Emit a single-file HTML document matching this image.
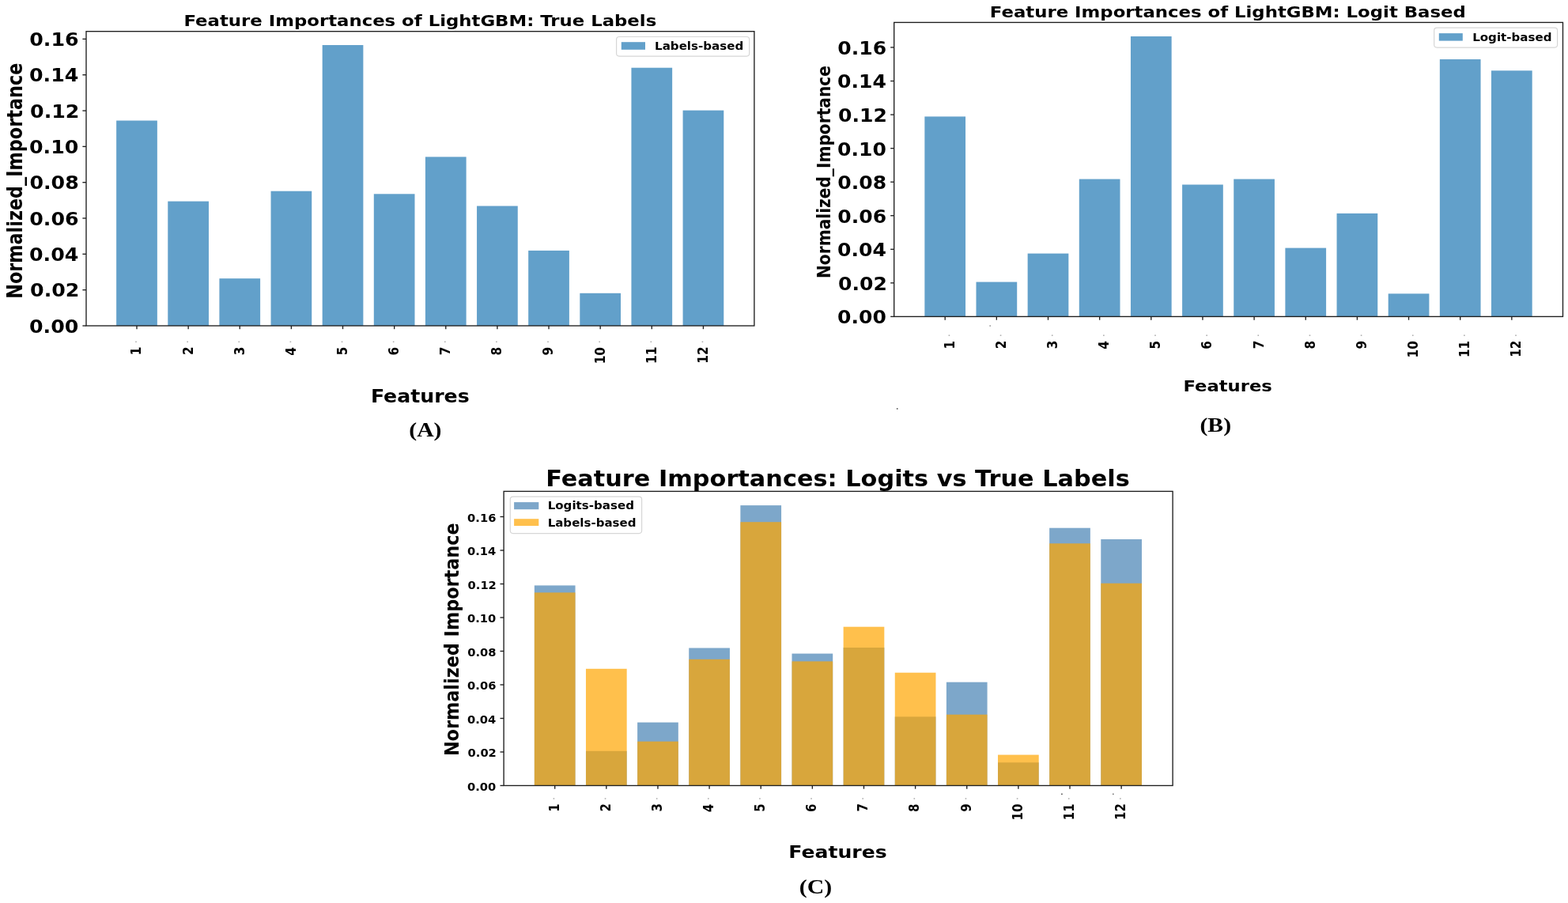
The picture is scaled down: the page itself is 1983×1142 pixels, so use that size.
<!DOCTYPE html>
<html><head><meta charset="utf-8"><title>Feature Importances</title>
<style>html,body{margin:0;padding:0;background:#fff;}svg{display:block;}</style></head>
<body><svg width="1983" height="1142" viewBox="0 0 1983 1142">
<rect width="1983" height="1142" fill="#fff"/>
<rect x="147.15" y="152.50" width="51.70" height="259.50" fill="#1f77b4" fill-opacity="0.7"/>
<rect x="212.28" y="254.60" width="51.70" height="157.40" fill="#1f77b4" fill-opacity="0.7"/>
<rect x="277.41" y="352.20" width="51.70" height="59.80" fill="#1f77b4" fill-opacity="0.7"/>
<rect x="342.54" y="241.70" width="51.70" height="170.30" fill="#1f77b4" fill-opacity="0.7"/>
<rect x="407.67" y="57.00" width="51.70" height="355.00" fill="#1f77b4" fill-opacity="0.7"/>
<rect x="472.80" y="245.30" width="51.70" height="166.70" fill="#1f77b4" fill-opacity="0.7"/>
<rect x="537.93" y="198.40" width="51.70" height="213.60" fill="#1f77b4" fill-opacity="0.7"/>
<rect x="603.06" y="260.50" width="51.70" height="151.50" fill="#1f77b4" fill-opacity="0.7"/>
<rect x="668.19" y="316.90" width="51.70" height="95.10" fill="#1f77b4" fill-opacity="0.7"/>
<rect x="733.32" y="370.80" width="51.70" height="41.20" fill="#1f77b4" fill-opacity="0.7"/>
<rect x="798.45" y="85.70" width="51.70" height="326.30" fill="#1f77b4" fill-opacity="0.7"/>
<rect x="863.58" y="139.60" width="51.70" height="272.40" fill="#1f77b4" fill-opacity="0.7"/>
<rect x="109.00" y="39.70" width="844.90" height="372.30" fill="none" stroke="#1e1e1e" stroke-width="1.35"/>
<line x1="104.40" y1="412.00" x2="109.00" y2="412.00" stroke="#1e1e1e" stroke-width="1.35"/>
<text font-family="DejaVu Sans" font-weight="bold" font-size="22.781" transform="translate(37.04 420.56) scale(1.1094 1)" fill="#000">0.00</text>
<line x1="104.40" y1="366.67" x2="109.00" y2="366.67" stroke="#1e1e1e" stroke-width="1.35"/>
<text font-family="DejaVu Sans" font-weight="bold" font-size="22.781" transform="translate(38.05 375.23) scale(1.1094 1)" fill="#000">0.02</text>
<line x1="104.40" y1="321.34" x2="109.00" y2="321.34" stroke="#1e1e1e" stroke-width="1.35"/>
<text font-family="DejaVu Sans" font-weight="bold" font-size="22.781" transform="translate(37.04 329.90) scale(1.1094 1)" fill="#000">0.04</text>
<line x1="104.40" y1="276.01" x2="109.00" y2="276.01" stroke="#1e1e1e" stroke-width="1.35"/>
<text font-family="DejaVu Sans" font-weight="bold" font-size="22.781" transform="translate(37.29 284.57) scale(1.1094 1)" fill="#000">0.06</text>
<line x1="104.40" y1="230.68" x2="109.00" y2="230.68" stroke="#1e1e1e" stroke-width="1.35"/>
<text font-family="DejaVu Sans" font-weight="bold" font-size="22.781" transform="translate(37.42 239.24) scale(1.1094 1)" fill="#000">0.08</text>
<line x1="104.40" y1="185.35" x2="109.00" y2="185.35" stroke="#1e1e1e" stroke-width="1.35"/>
<text font-family="DejaVu Sans" font-weight="bold" font-size="22.781" transform="translate(37.04 193.91) scale(1.1094 1)" fill="#000">0.10</text>
<line x1="104.40" y1="140.02" x2="109.00" y2="140.02" stroke="#1e1e1e" stroke-width="1.35"/>
<text font-family="DejaVu Sans" font-weight="bold" font-size="22.781" transform="translate(38.05 148.58) scale(1.1094 1)" fill="#000">0.12</text>
<line x1="104.40" y1="94.69" x2="109.00" y2="94.69" stroke="#1e1e1e" stroke-width="1.35"/>
<text font-family="DejaVu Sans" font-weight="bold" font-size="22.781" transform="translate(37.04 103.25) scale(1.1094 1)" fill="#000">0.14</text>
<line x1="104.40" y1="49.36" x2="109.00" y2="49.36" stroke="#1e1e1e" stroke-width="1.35"/>
<text font-family="DejaVu Sans" font-weight="bold" font-size="22.781" transform="translate(37.29 57.92) scale(1.1094 1)" fill="#000">0.16</text>
<line x1="173.00" y1="412.00" x2="173.00" y2="416.20" stroke="#1e1e1e" stroke-width="1.35"/>
<text font-family="DejaVu Sans" font-weight="bold" font-size="17.616" text-anchor="end" transform="translate(178.43 438.61) rotate(-90) scale(0.8723 1)">1</text>
<rect x="171.20" y="431.50" width="1.6" height="1.6" fill="#b0b0b0"/>
<line x1="238.13" y1="412.00" x2="238.13" y2="416.20" stroke="#1e1e1e" stroke-width="1.35"/>
<text font-family="DejaVu Sans" font-weight="bold" font-size="17.616" text-anchor="end" transform="translate(243.65 438.38) rotate(-90) scale(0.8723 1)">2</text>
<rect x="236.33" y="431.50" width="1.6" height="1.6" fill="#b0b0b0"/>
<line x1="303.26" y1="412.00" x2="303.26" y2="416.20" stroke="#1e1e1e" stroke-width="1.35"/>
<text font-family="DejaVu Sans" font-weight="bold" font-size="17.616" text-anchor="end" transform="translate(308.65 438.46) rotate(-90) scale(0.8723 1)">3</text>
<rect x="301.46" y="431.50" width="1.6" height="1.6" fill="#b0b0b0"/>
<line x1="368.39" y1="412.00" x2="368.39" y2="416.20" stroke="#1e1e1e" stroke-width="1.35"/>
<text font-family="DejaVu Sans" font-weight="bold" font-size="17.616" text-anchor="end" transform="translate(373.82 439.00) rotate(-90) scale(0.8723 1)">4</text>
<rect x="366.59" y="431.50" width="1.6" height="1.6" fill="#b0b0b0"/>
<line x1="433.52" y1="412.00" x2="433.52" y2="416.20" stroke="#1e1e1e" stroke-width="1.35"/>
<text font-family="DejaVu Sans" font-weight="bold" font-size="17.616" text-anchor="end" transform="translate(438.82 438.61) rotate(-90) scale(0.8723 1)">5</text>
<rect x="431.72" y="431.50" width="1.6" height="1.6" fill="#b0b0b0"/>
<line x1="498.65" y1="412.00" x2="498.65" y2="416.20" stroke="#1e1e1e" stroke-width="1.35"/>
<text font-family="DejaVu Sans" font-weight="bold" font-size="17.616" text-anchor="end" transform="translate(504.04 438.84) rotate(-90) scale(0.8723 1)">6</text>
<rect x="496.85" y="431.50" width="1.6" height="1.6" fill="#b0b0b0"/>
<line x1="563.78" y1="412.00" x2="563.78" y2="416.20" stroke="#1e1e1e" stroke-width="1.35"/>
<text font-family="DejaVu Sans" font-weight="bold" font-size="17.616" text-anchor="end" transform="translate(569.21 438.46) rotate(-90) scale(0.8723 1)">7</text>
<rect x="561.98" y="431.50" width="1.6" height="1.6" fill="#b0b0b0"/>
<line x1="628.91" y1="412.00" x2="628.91" y2="416.20" stroke="#1e1e1e" stroke-width="1.35"/>
<text font-family="DejaVu Sans" font-weight="bold" font-size="17.616" text-anchor="end" transform="translate(634.30 438.77) rotate(-90) scale(0.8723 1)">8</text>
<rect x="627.11" y="431.50" width="1.6" height="1.6" fill="#b0b0b0"/>
<line x1="694.04" y1="412.00" x2="694.04" y2="416.20" stroke="#1e1e1e" stroke-width="1.35"/>
<text font-family="DejaVu Sans" font-weight="bold" font-size="17.616" text-anchor="end" transform="translate(699.43 438.69) rotate(-90) scale(0.8723 1)">9</text>
<rect x="692.24" y="431.50" width="1.6" height="1.6" fill="#b0b0b0"/>
<line x1="759.17" y1="412.00" x2="759.17" y2="416.20" stroke="#1e1e1e" stroke-width="1.35"/>
<text font-family="DejaVu Sans" font-weight="bold" font-size="17.616" text-anchor="end" transform="translate(764.56 438.98) rotate(-90) scale(0.8723 1)">10</text>
<rect x="757.37" y="431.50" width="1.6" height="1.6" fill="#b0b0b0"/>
<line x1="824.30" y1="412.00" x2="824.30" y2="416.20" stroke="#1e1e1e" stroke-width="1.35"/>
<text font-family="DejaVu Sans" font-weight="bold" font-size="17.616" text-anchor="end" transform="translate(829.73 438.60) rotate(-90) scale(0.8723 1)">11</text>
<rect x="822.50" y="431.50" width="1.6" height="1.6" fill="#b0b0b0"/>
<line x1="889.43" y1="412.00" x2="889.43" y2="416.20" stroke="#1e1e1e" stroke-width="1.35"/>
<text font-family="DejaVu Sans" font-weight="bold" font-size="17.616" text-anchor="end" transform="translate(894.95 438.37) rotate(-90) scale(0.8723 1)">12</text>
<rect x="887.63" y="431.50" width="1.6" height="1.6" fill="#b0b0b0"/>
<text font-family="DejaVu Sans" font-weight="bold" font-size="26.438" transform="translate(27.85 377.81) rotate(-90) scale(0.8456 1)">Normalized_Importance</text>
<text font-family="DejaVu Sans" font-weight="bold" font-size="20.000" transform="translate(232.45 33.10) scale(1.1403 1)" fill="#000">Feature Importances of LightGBM: True Labels</text>
<text font-family="DejaVu Sans" font-weight="bold" font-size="22.740" transform="translate(468.93 508.70) scale(1.1078 1)" fill="#000">Features</text>
<text font-family="Liberation Serif" font-weight="bold" font-size="24.885" transform="translate(517.26 551.50) scale(1.1932 1)" fill="#000">(A)</text>
<rect x="779.60" y="46.50" width="168.10" height="24.60" rx="3.5" ry="3.5" fill="#fff" fill-opacity="0.8" stroke="#d6d6d6" stroke-width="1.2"/>
<rect x="785.80" y="53.20" width="30.20" height="9.60" fill="#1f77b4" fill-opacity="0.7"/>
<text font-family="DejaVu Sans" font-weight="bold" font-size="14.384" transform="translate(828.04 62.80) scale(1.0498 1)" fill="#000">Labels-based</text>
<rect x="1169.35" y="147.40" width="51.70" height="253.00" fill="#1f77b4" fill-opacity="0.7"/>
<rect x="1234.50" y="356.60" width="51.70" height="43.80" fill="#1f77b4" fill-opacity="0.7"/>
<rect x="1299.65" y="320.60" width="51.70" height="79.80" fill="#1f77b4" fill-opacity="0.7"/>
<rect x="1364.80" y="226.50" width="51.70" height="173.90" fill="#1f77b4" fill-opacity="0.7"/>
<rect x="1429.95" y="46.00" width="51.70" height="354.40" fill="#1f77b4" fill-opacity="0.7"/>
<rect x="1495.10" y="233.50" width="51.70" height="166.90" fill="#1f77b4" fill-opacity="0.7"/>
<rect x="1560.25" y="226.50" width="51.70" height="173.90" fill="#1f77b4" fill-opacity="0.7"/>
<rect x="1625.40" y="313.60" width="51.70" height="86.80" fill="#1f77b4" fill-opacity="0.7"/>
<rect x="1690.55" y="269.90" width="51.70" height="130.50" fill="#1f77b4" fill-opacity="0.7"/>
<rect x="1755.70" y="371.40" width="51.70" height="29.00" fill="#1f77b4" fill-opacity="0.7"/>
<rect x="1820.85" y="75.00" width="51.70" height="325.40" fill="#1f77b4" fill-opacity="0.7"/>
<rect x="1886.00" y="89.30" width="51.70" height="311.10" fill="#1f77b4" fill-opacity="0.7"/>
<rect x="1130.70" y="28.40" width="845.80" height="372.00" fill="none" stroke="#1e1e1e" stroke-width="1.35"/>
<line x1="1126.20" y1="400.40" x2="1130.70" y2="400.40" stroke="#1e1e1e" stroke-width="1.35"/>
<text font-family="DejaVu Sans" font-weight="bold" font-size="22.384" transform="translate(1058.99 409.36) scale(1.1206 1)" fill="#000">0.00</text>
<line x1="1126.20" y1="357.84" x2="1130.70" y2="357.84" stroke="#1e1e1e" stroke-width="1.35"/>
<text font-family="DejaVu Sans" font-weight="bold" font-size="22.384" transform="translate(1060.00 366.80) scale(1.1206 1)" fill="#000">0.02</text>
<line x1="1126.20" y1="315.28" x2="1130.70" y2="315.28" stroke="#1e1e1e" stroke-width="1.35"/>
<text font-family="DejaVu Sans" font-weight="bold" font-size="22.384" transform="translate(1058.99 324.24) scale(1.1206 1)" fill="#000">0.04</text>
<line x1="1126.20" y1="272.72" x2="1130.70" y2="272.72" stroke="#1e1e1e" stroke-width="1.35"/>
<text font-family="DejaVu Sans" font-weight="bold" font-size="22.384" transform="translate(1059.25 281.68) scale(1.1206 1)" fill="#000">0.06</text>
<line x1="1126.20" y1="230.16" x2="1130.70" y2="230.16" stroke="#1e1e1e" stroke-width="1.35"/>
<text font-family="DejaVu Sans" font-weight="bold" font-size="22.384" transform="translate(1059.37 239.12) scale(1.1206 1)" fill="#000">0.08</text>
<line x1="1126.20" y1="187.60" x2="1130.70" y2="187.60" stroke="#1e1e1e" stroke-width="1.35"/>
<text font-family="DejaVu Sans" font-weight="bold" font-size="22.384" transform="translate(1058.99 196.56) scale(1.1206 1)" fill="#000">0.10</text>
<line x1="1126.20" y1="145.04" x2="1130.70" y2="145.04" stroke="#1e1e1e" stroke-width="1.35"/>
<text font-family="DejaVu Sans" font-weight="bold" font-size="22.384" transform="translate(1060.00 154.00) scale(1.1206 1)" fill="#000">0.12</text>
<line x1="1126.20" y1="102.48" x2="1130.70" y2="102.48" stroke="#1e1e1e" stroke-width="1.35"/>
<text font-family="DejaVu Sans" font-weight="bold" font-size="22.384" transform="translate(1058.99 111.44) scale(1.1206 1)" fill="#000">0.14</text>
<line x1="1126.20" y1="59.92" x2="1130.70" y2="59.92" stroke="#1e1e1e" stroke-width="1.35"/>
<text font-family="DejaVu Sans" font-weight="bold" font-size="22.384" transform="translate(1059.25 68.88) scale(1.1206 1)" fill="#000">0.16</text>
<line x1="1195.20" y1="400.40" x2="1195.20" y2="404.70" stroke="#1e1e1e" stroke-width="1.35"/>
<text font-family="DejaVu Sans" font-weight="bold" font-size="17.219" text-anchor="end" transform="translate(1206.68 430.82) rotate(-90) scale(0.8877 1)">1</text>
<rect x="1199.60" y="423.40" width="1.6" height="1.6" fill="#b0b0b0"/>
<line x1="1260.35" y1="400.40" x2="1260.35" y2="404.70" stroke="#1e1e1e" stroke-width="1.35"/>
<text font-family="DejaVu Sans" font-weight="bold" font-size="17.219" text-anchor="end" transform="translate(1271.92 430.59) rotate(-90) scale(0.8877 1)">2</text>
<rect x="1264.75" y="423.40" width="1.6" height="1.6" fill="#b0b0b0"/>
<line x1="1325.50" y1="400.40" x2="1325.50" y2="404.70" stroke="#1e1e1e" stroke-width="1.35"/>
<text font-family="DejaVu Sans" font-weight="bold" font-size="17.219" text-anchor="end" transform="translate(1336.94 430.67) rotate(-90) scale(0.8877 1)">3</text>
<rect x="1329.90" y="423.40" width="1.6" height="1.6" fill="#b0b0b0"/>
<line x1="1390.65" y1="400.40" x2="1390.65" y2="404.70" stroke="#1e1e1e" stroke-width="1.35"/>
<text font-family="DejaVu Sans" font-weight="bold" font-size="17.219" text-anchor="end" transform="translate(1402.13 431.20) rotate(-90) scale(0.8877 1)">4</text>
<rect x="1395.05" y="423.40" width="1.6" height="1.6" fill="#b0b0b0"/>
<line x1="1455.80" y1="400.40" x2="1455.80" y2="404.70" stroke="#1e1e1e" stroke-width="1.35"/>
<text font-family="DejaVu Sans" font-weight="bold" font-size="17.219" text-anchor="end" transform="translate(1467.16 430.82) rotate(-90) scale(0.8877 1)">5</text>
<rect x="1460.20" y="423.40" width="1.6" height="1.6" fill="#b0b0b0"/>
<line x1="1520.95" y1="400.40" x2="1520.95" y2="404.70" stroke="#1e1e1e" stroke-width="1.35"/>
<text font-family="DejaVu Sans" font-weight="bold" font-size="17.219" text-anchor="end" transform="translate(1532.39 431.05) rotate(-90) scale(0.8877 1)">6</text>
<rect x="1525.35" y="423.40" width="1.6" height="1.6" fill="#b0b0b0"/>
<line x1="1586.10" y1="400.40" x2="1586.10" y2="404.70" stroke="#1e1e1e" stroke-width="1.35"/>
<text font-family="DejaVu Sans" font-weight="bold" font-size="17.219" text-anchor="end" transform="translate(1597.58 430.67) rotate(-90) scale(0.8877 1)">7</text>
<rect x="1590.50" y="423.40" width="1.6" height="1.6" fill="#b0b0b0"/>
<line x1="1651.25" y1="400.40" x2="1651.25" y2="404.70" stroke="#1e1e1e" stroke-width="1.35"/>
<text font-family="DejaVu Sans" font-weight="bold" font-size="17.219" text-anchor="end" transform="translate(1662.69 430.97) rotate(-90) scale(0.8877 1)">8</text>
<rect x="1655.65" y="423.40" width="1.6" height="1.6" fill="#b0b0b0"/>
<line x1="1716.40" y1="400.40" x2="1716.40" y2="404.70" stroke="#1e1e1e" stroke-width="1.35"/>
<text font-family="DejaVu Sans" font-weight="bold" font-size="17.219" text-anchor="end" transform="translate(1727.84 430.89) rotate(-90) scale(0.8877 1)">9</text>
<rect x="1720.80" y="423.40" width="1.6" height="1.6" fill="#b0b0b0"/>
<line x1="1781.55" y1="400.40" x2="1781.55" y2="404.70" stroke="#1e1e1e" stroke-width="1.35"/>
<text font-family="DejaVu Sans" font-weight="bold" font-size="17.219" text-anchor="end" transform="translate(1792.99 431.19) rotate(-90) scale(0.8877 1)">10</text>
<rect x="1785.95" y="423.40" width="1.6" height="1.6" fill="#b0b0b0"/>
<line x1="1846.70" y1="400.40" x2="1846.70" y2="404.70" stroke="#1e1e1e" stroke-width="1.35"/>
<text font-family="DejaVu Sans" font-weight="bold" font-size="17.219" text-anchor="end" transform="translate(1858.18 430.81) rotate(-90) scale(0.8877 1)">11</text>
<rect x="1851.10" y="423.40" width="1.6" height="1.6" fill="#b0b0b0"/>
<line x1="1911.85" y1="400.40" x2="1911.85" y2="404.70" stroke="#1e1e1e" stroke-width="1.35"/>
<text font-family="DejaVu Sans" font-weight="bold" font-size="17.219" text-anchor="end" transform="translate(1923.42 430.58) rotate(-90) scale(0.8877 1)">12</text>
<rect x="1916.25" y="423.40" width="1.6" height="1.6" fill="#b0b0b0"/>
<text font-family="DejaVu Sans" font-weight="bold" font-size="23.014" transform="translate(1049.80 352.01) rotate(-90) scale(0.8760 1)">Normalized_Importance</text>
<text font-family="DejaVu Sans" font-weight="bold" font-size="19.863" transform="translate(1251.85 21.80) scale(1.1478 1)" fill="#000">Feature Importances of LightGBM: Logit Based</text>
<text font-family="DejaVu Sans" font-weight="bold" font-size="19.726" transform="translate(1496.46 495.40) scale(1.1508 1)" fill="#000">Features</text>
<text font-family="Liberation Serif" font-weight="bold" font-size="24.733" transform="translate(1517.46 546.10) scale(1.2016 1)" fill="#000">(B)</text>
<rect x="1813.70" y="35.20" width="155.90" height="24.90" rx="3.5" ry="3.5" fill="#fff" fill-opacity="0.8" stroke="#d6d6d6" stroke-width="1.2"/>
<rect x="1819.80" y="42.10" width="30.00" height="9.50" fill="#1f77b4" fill-opacity="0.7"/>
<text font-family="DejaVu Sans" font-weight="bold" font-size="14.932" transform="translate(1862.14 51.80) scale(1.0108 1)" fill="#000">Logit-based</text>
<rect x="675.85" y="740.40" width="51.70" height="253.10" fill="#4682b4" fill-opacity="0.7"/>
<rect x="740.98" y="949.80" width="51.70" height="43.70" fill="#4682b4" fill-opacity="0.7"/>
<rect x="806.11" y="913.60" width="51.70" height="79.90" fill="#4682b4" fill-opacity="0.7"/>
<rect x="871.24" y="819.50" width="51.70" height="174.00" fill="#4682b4" fill-opacity="0.7"/>
<rect x="936.37" y="639.10" width="51.70" height="354.40" fill="#4682b4" fill-opacity="0.7"/>
<rect x="1001.50" y="826.60" width="51.70" height="166.90" fill="#4682b4" fill-opacity="0.7"/>
<rect x="1066.63" y="819.00" width="51.70" height="174.50" fill="#4682b4" fill-opacity="0.7"/>
<rect x="1131.76" y="906.40" width="51.70" height="87.10" fill="#4682b4" fill-opacity="0.7"/>
<rect x="1196.89" y="862.70" width="51.70" height="130.80" fill="#4682b4" fill-opacity="0.7"/>
<rect x="1262.02" y="964.30" width="51.70" height="29.20" fill="#4682b4" fill-opacity="0.7"/>
<rect x="1327.15" y="667.70" width="51.70" height="325.80" fill="#4682b4" fill-opacity="0.7"/>
<rect x="1392.28" y="682.00" width="51.70" height="311.50" fill="#4682b4" fill-opacity="0.7"/>
<rect x="675.85" y="749.40" width="51.70" height="244.10" fill="#ffa500" fill-opacity="0.7"/>
<rect x="740.98" y="845.80" width="51.70" height="147.70" fill="#ffa500" fill-opacity="0.7"/>
<rect x="806.11" y="937.70" width="51.70" height="55.80" fill="#ffa500" fill-opacity="0.7"/>
<rect x="871.24" y="833.80" width="51.70" height="159.70" fill="#ffa500" fill-opacity="0.7"/>
<rect x="936.37" y="660.20" width="51.70" height="333.30" fill="#ffa500" fill-opacity="0.7"/>
<rect x="1001.50" y="836.40" width="51.70" height="157.10" fill="#ffa500" fill-opacity="0.7"/>
<rect x="1066.63" y="792.70" width="51.70" height="200.80" fill="#ffa500" fill-opacity="0.7"/>
<rect x="1131.76" y="850.70" width="51.70" height="142.80" fill="#ffa500" fill-opacity="0.7"/>
<rect x="1196.89" y="903.70" width="51.70" height="89.80" fill="#ffa500" fill-opacity="0.7"/>
<rect x="1262.02" y="954.60" width="51.70" height="38.90" fill="#ffa500" fill-opacity="0.7"/>
<rect x="1327.15" y="687.30" width="51.70" height="306.20" fill="#ffa500" fill-opacity="0.7"/>
<rect x="1392.28" y="737.70" width="51.70" height="255.80" fill="#ffa500" fill-opacity="0.7"/>
<rect x="637.10" y="621.40" width="846.00" height="372.10" fill="none" stroke="#1e1e1e" stroke-width="1.35"/>
<line x1="632.50" y1="993.50" x2="637.10" y2="993.50" stroke="#1e1e1e" stroke-width="1.35"/>
<text font-family="DejaVu Sans" font-weight="bold" font-size="14.172" transform="translate(590.96 999.69) scale(1.0391 1)" fill="#000">0.00</text>
<line x1="632.50" y1="951.00" x2="637.10" y2="951.00" stroke="#1e1e1e" stroke-width="1.35"/>
<text font-family="DejaVu Sans" font-weight="bold" font-size="14.172" transform="translate(591.55 957.19) scale(1.0391 1)" fill="#000">0.02</text>
<line x1="632.50" y1="908.50" x2="637.10" y2="908.50" stroke="#1e1e1e" stroke-width="1.35"/>
<text font-family="DejaVu Sans" font-weight="bold" font-size="14.172" transform="translate(590.96 914.69) scale(1.0391 1)" fill="#000">0.04</text>
<line x1="632.50" y1="866.00" x2="637.10" y2="866.00" stroke="#1e1e1e" stroke-width="1.35"/>
<text font-family="DejaVu Sans" font-weight="bold" font-size="14.172" transform="translate(591.11 872.19) scale(1.0391 1)" fill="#000">0.06</text>
<line x1="632.50" y1="823.50" x2="637.10" y2="823.50" stroke="#1e1e1e" stroke-width="1.35"/>
<text font-family="DejaVu Sans" font-weight="bold" font-size="14.172" transform="translate(591.18 829.69) scale(1.0391 1)" fill="#000">0.08</text>
<line x1="632.50" y1="781.00" x2="637.10" y2="781.00" stroke="#1e1e1e" stroke-width="1.35"/>
<text font-family="DejaVu Sans" font-weight="bold" font-size="14.172" transform="translate(590.96 787.19) scale(1.0391 1)" fill="#000">0.10</text>
<line x1="632.50" y1="738.50" x2="637.10" y2="738.50" stroke="#1e1e1e" stroke-width="1.35"/>
<text font-family="DejaVu Sans" font-weight="bold" font-size="14.172" transform="translate(591.55 744.69) scale(1.0391 1)" fill="#000">0.12</text>
<line x1="632.50" y1="696.00" x2="637.10" y2="696.00" stroke="#1e1e1e" stroke-width="1.35"/>
<text font-family="DejaVu Sans" font-weight="bold" font-size="14.172" transform="translate(590.96 702.19) scale(1.0391 1)" fill="#000">0.14</text>
<line x1="632.50" y1="653.50" x2="637.10" y2="653.50" stroke="#1e1e1e" stroke-width="1.35"/>
<text font-family="DejaVu Sans" font-weight="bold" font-size="14.172" transform="translate(591.11 659.69) scale(1.0391 1)" fill="#000">0.16</text>
<line x1="701.70" y1="993.50" x2="701.70" y2="997.70" stroke="#1e1e1e" stroke-width="1.35"/>
<text font-family="DejaVu Sans" font-weight="bold" font-size="16.954" text-anchor="end" transform="translate(706.59 1016.34) rotate(-90) scale(0.8824 1)">1</text>
<rect x="699.60" y="1009.20" width="1.6" height="1.6" fill="#b0b0b0"/>
<line x1="766.83" y1="993.50" x2="766.83" y2="997.70" stroke="#1e1e1e" stroke-width="1.35"/>
<text font-family="DejaVu Sans" font-weight="bold" font-size="16.954" text-anchor="end" transform="translate(771.80 1016.12) rotate(-90) scale(0.8824 1)">2</text>
<rect x="764.73" y="1009.20" width="1.6" height="1.6" fill="#b0b0b0"/>
<line x1="831.96" y1="993.50" x2="831.96" y2="997.70" stroke="#1e1e1e" stroke-width="1.35"/>
<text font-family="DejaVu Sans" font-weight="bold" font-size="16.954" text-anchor="end" transform="translate(836.81 1016.19) rotate(-90) scale(0.8824 1)">3</text>
<rect x="829.86" y="1009.20" width="1.6" height="1.6" fill="#b0b0b0"/>
<line x1="897.09" y1="993.50" x2="897.09" y2="997.70" stroke="#1e1e1e" stroke-width="1.35"/>
<text font-family="DejaVu Sans" font-weight="bold" font-size="16.954" text-anchor="end" transform="translate(901.98 1016.72) rotate(-90) scale(0.8824 1)">4</text>
<rect x="894.99" y="1009.20" width="1.6" height="1.6" fill="#b0b0b0"/>
<line x1="962.22" y1="993.50" x2="962.22" y2="997.70" stroke="#1e1e1e" stroke-width="1.35"/>
<text font-family="DejaVu Sans" font-weight="bold" font-size="16.954" text-anchor="end" transform="translate(966.98 1016.34) rotate(-90) scale(0.8824 1)">5</text>
<rect x="960.12" y="1009.20" width="1.6" height="1.6" fill="#b0b0b0"/>
<line x1="1027.35" y1="993.50" x2="1027.35" y2="997.70" stroke="#1e1e1e" stroke-width="1.35"/>
<text font-family="DejaVu Sans" font-weight="bold" font-size="16.954" text-anchor="end" transform="translate(1032.20 1016.57) rotate(-90) scale(0.8824 1)">6</text>
<rect x="1025.25" y="1009.20" width="1.6" height="1.6" fill="#b0b0b0"/>
<line x1="1092.48" y1="993.50" x2="1092.48" y2="997.70" stroke="#1e1e1e" stroke-width="1.35"/>
<text font-family="DejaVu Sans" font-weight="bold" font-size="16.954" text-anchor="end" transform="translate(1097.37 1016.19) rotate(-90) scale(0.8824 1)">7</text>
<rect x="1090.38" y="1009.20" width="1.6" height="1.6" fill="#b0b0b0"/>
<line x1="1157.61" y1="993.50" x2="1157.61" y2="997.70" stroke="#1e1e1e" stroke-width="1.35"/>
<text font-family="DejaVu Sans" font-weight="bold" font-size="16.954" text-anchor="end" transform="translate(1162.46 1016.49) rotate(-90) scale(0.8824 1)">8</text>
<rect x="1155.51" y="1009.20" width="1.6" height="1.6" fill="#b0b0b0"/>
<line x1="1222.74" y1="993.50" x2="1222.74" y2="997.70" stroke="#1e1e1e" stroke-width="1.35"/>
<text font-family="DejaVu Sans" font-weight="bold" font-size="16.954" text-anchor="end" transform="translate(1227.59 1016.42) rotate(-90) scale(0.8824 1)">9</text>
<rect x="1220.64" y="1009.20" width="1.6" height="1.6" fill="#b0b0b0"/>
<line x1="1287.87" y1="993.50" x2="1287.87" y2="997.70" stroke="#1e1e1e" stroke-width="1.35"/>
<text font-family="DejaVu Sans" font-weight="bold" font-size="16.954" text-anchor="end" transform="translate(1292.72 1016.70) rotate(-90) scale(0.8824 1)">10</text>
<rect x="1285.77" y="1009.20" width="1.6" height="1.6" fill="#b0b0b0"/>
<line x1="1353.00" y1="993.50" x2="1353.00" y2="997.70" stroke="#1e1e1e" stroke-width="1.35"/>
<text font-family="DejaVu Sans" font-weight="bold" font-size="16.954" text-anchor="end" transform="translate(1357.89 1016.33) rotate(-90) scale(0.8824 1)">11</text>
<rect x="1350.90" y="1009.20" width="1.6" height="1.6" fill="#b0b0b0"/>
<line x1="1418.13" y1="993.50" x2="1418.13" y2="997.70" stroke="#1e1e1e" stroke-width="1.35"/>
<text font-family="DejaVu Sans" font-weight="bold" font-size="16.954" text-anchor="end" transform="translate(1423.10 1016.11) rotate(-90) scale(0.8824 1)">12</text>
<rect x="1416.03" y="1009.20" width="1.6" height="1.6" fill="#b0b0b0"/>
<text font-family="DejaVu Sans" font-weight="bold" font-size="25.616" transform="translate(579.50 956.11) rotate(-90) scale(0.8729 1)">Normalized Importance</text>
<text font-family="DejaVu Sans" font-weight="bold" font-size="27.534" transform="translate(690.17 614.80) scale(1.1021 1)" fill="#000">Feature Importances: Logits vs True Labels</text>
<text font-family="DejaVu Sans" font-weight="bold" font-size="21.918" transform="translate(997.24 1085.10) scale(1.1475 1)" fill="#000">Features</text>
<text font-family="Liberation Serif" font-weight="bold" font-size="24.885" transform="translate(1010.86 1130.00) scale(1.1962 1)" fill="#000">(C)</text>
<rect x="645.30" y="628.10" width="166.30" height="46.50" rx="3.5" ry="3.5" fill="#fff" fill-opacity="0.8" stroke="#d6d6d6" stroke-width="1.2"/>
<rect x="650.10" y="635.10" width="31.20" height="9.10" fill="#4682b4" fill-opacity="0.7"/>
<text font-family="DejaVu Sans" font-weight="bold" font-size="13.836" transform="translate(692.64 644.00) scale(1.0900 1)" fill="#000">Logits-based</text>
<rect x="650.10" y="656.20" width="31.20" height="8.80" fill="#ffa500" fill-opacity="0.7"/>
<text font-family="DejaVu Sans" font-weight="bold" font-size="14.247" transform="translate(692.64 666.00) scale(1.0570 1)" fill="#000">Labels-based</text>
<rect x="1251.40" y="411.30" width="1.6" height="1.6" fill="#999"/>
<rect x="1133.90" y="516.10" width="1.6" height="1.6" fill="#555"/>
<rect x="1342.10" y="1003.50" width="1.6" height="1.6" fill="#555"/>
<rect x="1407.00" y="1003.50" width="1.6" height="1.6" fill="#777"/>
</svg></body></html>
